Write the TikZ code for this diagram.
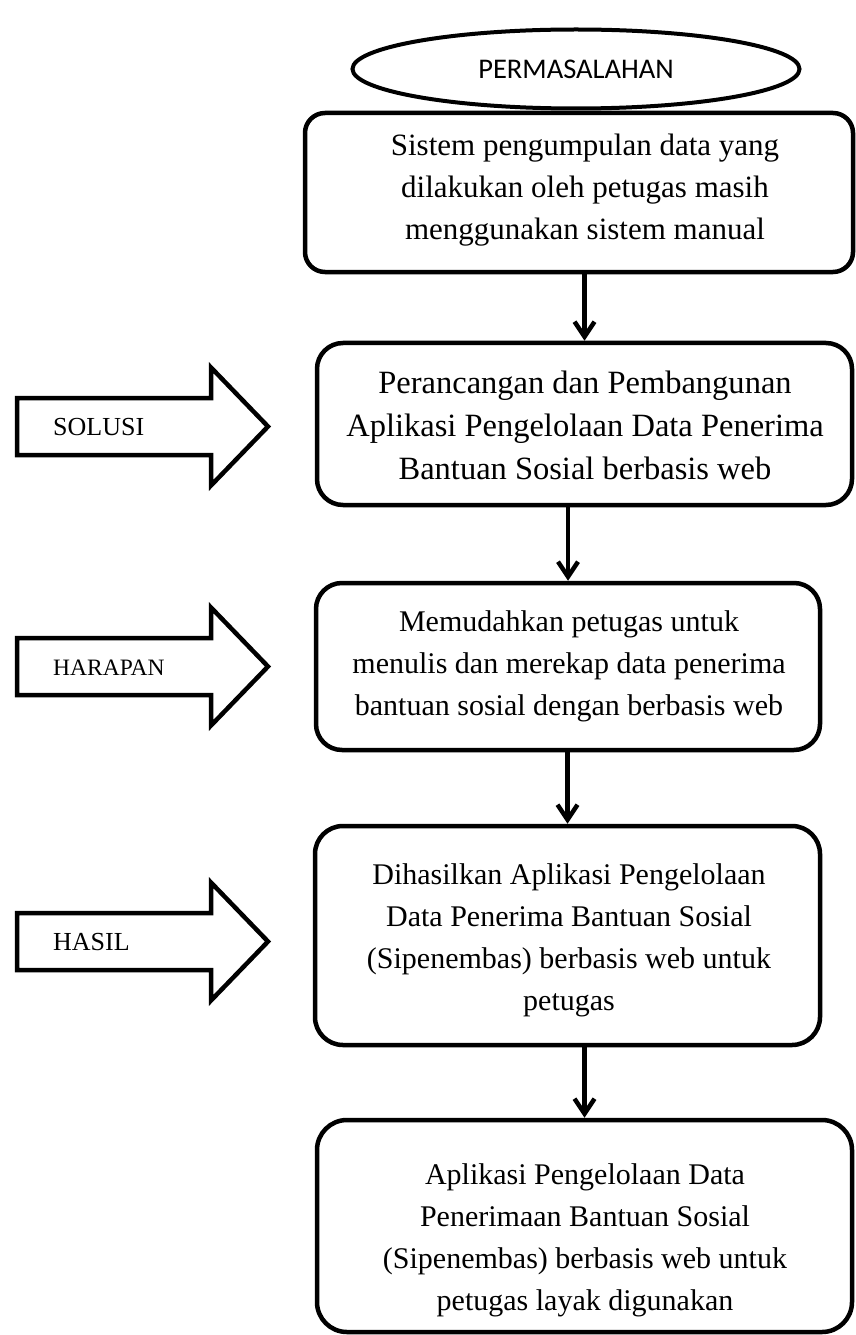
\documentclass[tikz,border=0pt]{standalone}
\usepackage{fontspec}
\setmainfont{Liberation Serif}
\newfontfamily\calibrifont{Carlito}
\usetikzlibrary{shapes.geometric,arrows.meta}

\tikzset{
	flowbox/.style={draw, line width=4.5bp, rounded corners=26bp, inner sep=0pt},
	flowtext/.style={align=center, inner sep=0pt, font=\fontsize{30bp}{42bp}\selectfont},
	flowarrow/.style={line width=4.5bp, -{Straight Barb[length=15bp,width=20bp]}},
	sidearrow/.style={draw, line width=4.5bp}
}

\begin{document}
\begin{tikzpicture}[x=1bp, y=-1bp]
\useasboundingbox (0,0) rectangle (855,1335);

% problem
\node[draw, ellipse, line width=4bp, minimum width=447bp, minimum height=79bp, inner sep=0pt,
	font=\calibrifont\fontsize{28.5bp}{34bp}\selectfont] (masalah) at (576,69) {PERMASALAHAN};

% main boxes
\node[flowbox, rounded corners=20bp, minimum width=548bp, minimum height=159bp] (b1) at (579,192.5) {};
\node[flowbox, minimum width=535bp, minimum height=162bp] (b2) at (584.5,424) {};
\node[flowbox, minimum width=504bp, minimum height=167bp] (b3) at (568,666.5) {};
\node[flowbox, rounded corners=28bp, minimum width=505bp, minimum height=219bp] (b4) at (567.5,935.5) {};
\node[flowbox, rounded corners=30bp, minimum width=535bp, minimum height=212bp] (b5) at (584.5,1226) {};

\node[flowtext, font=\fontsize{31bp}{42bp}\selectfont] (t1) at (585,190) {Sistem pengumpulan data yang\\dilakukan oleh petugas masih\\menggunakan sistem manual};
\node[flowtext, font=\fontsize{32.5bp}{43bp}\selectfont] (t2) at (585,425) {Perancangan dan Pembangunan\\Aplikasi Pengelolaan Data Penerima\\Bantuan Sosial berbasis web};
\node[flowtext] (t3) at (569,666) {Memudahkan petugas untuk\\menulis dan merekap data penerima\\bantuan sosial dengan berbasis web};
\node[flowtext] (t4) at (569,940) {Dihasilkan Aplikasi Pengelolaan\\Data Penerima Bantuan Sosial\\(Sipenembas) berbasis web untuk\\petugas};
\node[flowtext] (t5) at (585,1240) {Aplikasi Pengelolaan Data\\Penerimaan Bantuan Sosial\\(Sipenembas) berbasis web untuk\\petugas layak digunakan};

% connectors
\draw[flowarrow] (b1.south -| b2.north) -- (b2.north);
\draw[flowarrow] (b2.south -| b3.north) -- (b3.north);
\draw[flowarrow] (b3.south -| b4.north) -- (b4.north);
\draw[flowarrow] (b4.south -| b5.north) -- (b5.north);

% side arrows
\foreach \yc/\txt/\fs [count=\i] in {426.5/SOLUSI/26, 666.5/HARAPAN/23.5, 941.5/HASIL/26} {
	\draw[sidearrow] (17,{\yc-28.5}) -- (211,{\yc-28.5}) -- (211,{\yc-59}) -- (268,\yc)
		-- (211,{\yc+59}) -- (211,{\yc+28.5}) -- (17,{\yc+28.5}) -- cycle;
	\node[anchor=west, inner sep=0pt, font=\fontsize{\fs bp}{\fs bp}\selectfont] (side\i) at (53,{\yc+1}) {\txt};
}

\end{tikzpicture}
\end{document}
